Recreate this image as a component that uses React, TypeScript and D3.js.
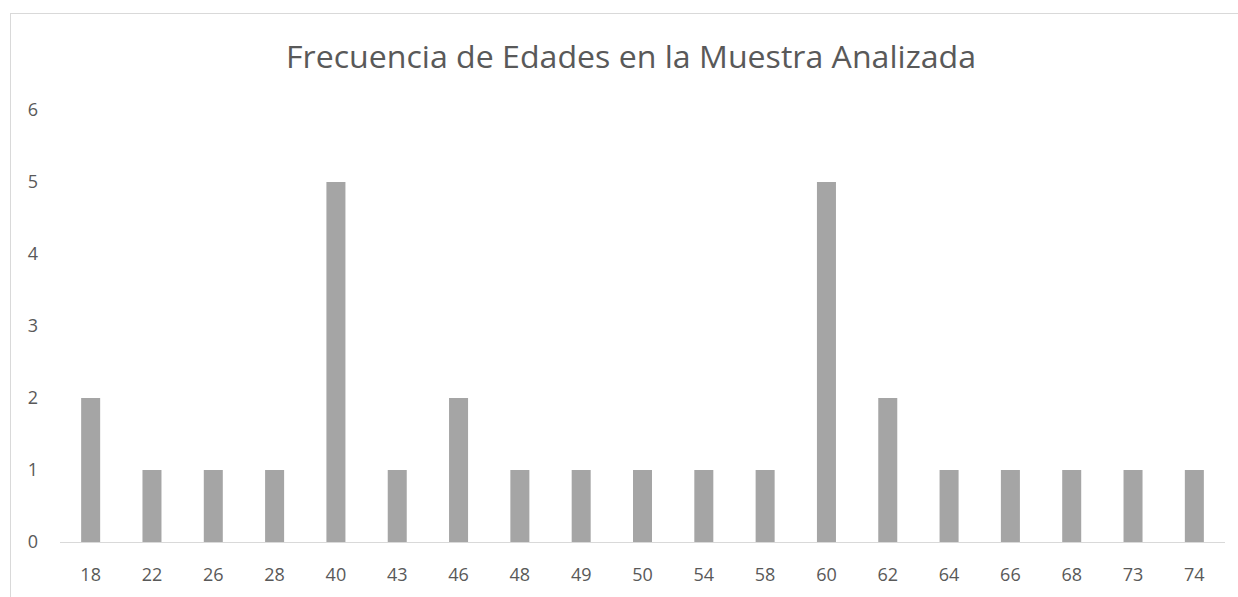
import { scaleBand, scaleLinear } from "d3";

const ages = ["18", "22", "26", "28", "40", "43", "46", "48", "49", "50", "54", "58", "60", "62", "64", "66", "68", "73", "74"];
const counts = [2, 1, 1, 1, 5, 1, 2, 1, 1, 1, 1, 1, 5, 2, 1, 1, 1, 1, 1];
const yTicks = [0, 1, 2, 3, 4, 5, 6];

const W = 1238;
const H = 597;
const left = 60;
const right = 1225;
const top = 110;
const bottom = 542;
const font = "'Open Sans', 'Noto Sans', sans-serif";

export default function App() {
  const x = scaleBand<string>()
    .domain(ages)
    .range([left, right])
    .paddingInner(0.69)
    .paddingOuter(0.345);
  const y = scaleLinear().domain([0, 6]).range([bottom, top]);

  return (
    <svg
      width={W}
      height={H}
      style={{ position: "absolute", left: 0, top: 0, background: "#fff" }}
    >
      <rect x={10.5} y={13.5} width={W + 10} height={H + 10} fill="white" stroke="#d9d9d9" />
      <text
        x={286}
        y={68}
        textLength={690}
        lengthAdjust="spacingAndGlyphs"
        fontFamily={font}
        fontSize={31}
        fill="#595959"
      >
        Frecuencia de Edades en la Muestra Analizada
      </text>
      {yTicks.map((t) => (
        <text
          key={t}
          x={38}
          y={y(t) + 6}
          textAnchor="end"
          fontFamily={font}
          fontSize={18}
          fill="#595959"
        >
          {t}
        </text>
      ))}
      {ages.map((a, i) => (
        <rect
          key={a}
          x={x(a)}
          y={y(counts[i])}
          width={x.bandwidth()}
          height={bottom - y(counts[i])}
          fill="#a5a5a5"
        />
      ))}
      <line x1={left} x2={right} y1={bottom + 0.5} y2={bottom + 0.5} stroke="#d9d9d9" />
      {ages.map((a) => (
        <text
          key={a}
          x={(x(a) ?? 0) + x.bandwidth() / 2}
          y={581}
          textAnchor="middle"
          fontFamily={font}
          fontSize={18}
          fill="#595959"
        >
          {a}
        </text>
      ))}
    </svg>
  );
}
